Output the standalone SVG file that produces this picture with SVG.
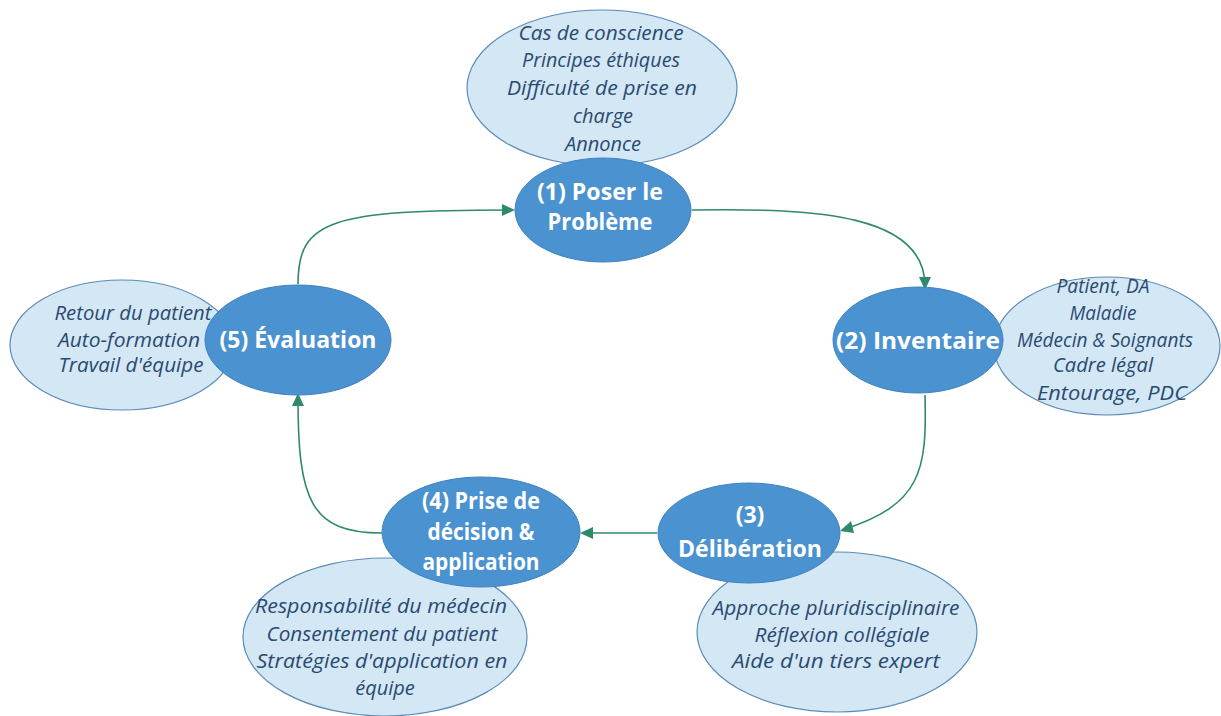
<svg xmlns="http://www.w3.org/2000/svg" width="1221" height="716" viewBox="0 0 1221 716">
<defs>
<style>
.bg{fill:#ffffff}
.sub{fill:#d3e7f5;stroke:#5b8bb8;stroke-width:1.2}
.main{fill:#4b92d0;stroke:#3f82c0;stroke-width:1}
.st{font-family:"Open Sans","Noto Sans",sans-serif;font-style:italic;font-size:20px;fill:#2b4a70;text-anchor:middle}
.mt{font-family:"Open Sans","Noto Sans",sans-serif;font-weight:bold;font-size:23px;fill:#ffffff;text-anchor:middle}
.conn{fill:none;stroke:#2e8b6a;stroke-width:1.6}
.ah{fill:#2e8b6a}
</style>
</defs>
<rect class="bg" width="1221" height="716"/>
<g id="connectors">
<path class="conn" d="M692,210 C820,208 925,215 925,286"/>
<path class="conn" d="M925,395 C927,470 922,505 842,530"/>
<path class="conn" d="M657,533 L582,533"/>
<path class="conn" d="M382,533 C310,533 298,500 298,397"/>
<path class="conn" d="M298,284 C298,220 330,210 513,210"/>
<path class="ah" d="M925,290 L919,277 L931,277 z"/>
<path class="ah" d="M840,531 L851,521 L854,533 z"/>
<path class="ah" d="M580,533 L593,527 L593,539 z"/>
<path class="ah" d="M298,393 L292,406 L304,406 z"/>
<path class="ah" d="M515,210 L502,204 L502,216 z"/>
</g>
<g id="sub1"><ellipse class="sub" cx="602" cy="88" rx="135" ry="78"/>
<text class="st" x="601" y="40" textLength="165" lengthAdjust="spacingAndGlyphs">Cas de conscience</text>
<text class="st" x="601" y="67" textLength="158" lengthAdjust="spacingAndGlyphs">Principes éthiques</text>
<text class="st" x="602" y="95" textLength="190" lengthAdjust="spacingAndGlyphs">Difficulté de prise en</text>
<text class="st" x="603" y="123">charge</text>
<text class="st" x="603" y="151">Annonce</text></g>
<g id="sub2"><ellipse class="sub" cx="1107" cy="346" rx="113" ry="69"/>
<text class="st" x="1103" y="293" textLength="93" lengthAdjust="spacingAndGlyphs">Patient, DA</text>
<text class="st" x="1103" y="320" textLength="67" lengthAdjust="spacingAndGlyphs">Maladie</text>
<text class="st" x="1105" y="347" textLength="176" lengthAdjust="spacingAndGlyphs">Médecin &amp; Soignants</text>
<text class="st" x="1103" y="372" textLength="100" lengthAdjust="spacingAndGlyphs">Cadre légal</text>
<text class="st" x="1112" y="400" textLength="150" lengthAdjust="spacingAndGlyphs">Entourage, PDC</text></g>
<g id="sub3"><ellipse class="sub" cx="837" cy="632" rx="140" ry="80"/>
<text class="st" x="836" y="615" textLength="247" lengthAdjust="spacingAndGlyphs">Approche pluridisciplinaire</text>
<text class="st" x="842" y="642" textLength="175" lengthAdjust="spacingAndGlyphs">Réflexion collégiale</text>
<text class="st" x="836" y="668" textLength="208" lengthAdjust="spacingAndGlyphs">Aide d'un tiers expert</text></g>
<g id="sub4"><ellipse class="sub" cx="385" cy="637" rx="142" ry="79"/>
<text class="st" x="381" y="613" textLength="252" lengthAdjust="spacingAndGlyphs">Responsabilité du médecin</text>
<text class="st" x="382" y="641" textLength="231" lengthAdjust="spacingAndGlyphs">Consentement du patient</text>
<text class="st" x="382" y="668" textLength="251" lengthAdjust="spacingAndGlyphs">Stratégies d'application en</text>
<text class="st" x="385" y="695">équipe</text></g>
<g id="sub5"><ellipse class="sub" cx="122" cy="345" rx="112" ry="65"/>
<text class="st" x="133" y="320" textLength="157" lengthAdjust="spacingAndGlyphs">Retour du patient</text>
<text class="st" x="129" y="347" textLength="142" lengthAdjust="spacingAndGlyphs">Auto-formation</text>
<text class="st" x="131" y="372" textLength="145" lengthAdjust="spacingAndGlyphs">Travail d'équipe</text></g>
<g id="n1"><ellipse class="main" cx="603" cy="210" rx="88" ry="52"/>
<text class="mt" x="600" y="200" textLength="126" lengthAdjust="spacingAndGlyphs">(1) Poser le</text>
<text class="mt" x="600" y="230" textLength="105" lengthAdjust="spacingAndGlyphs">Problème</text></g>
<g id="n2"><ellipse class="main" cx="918" cy="340" rx="85" ry="53"/>
<text class="mt" x="918" y="349" textLength="164" lengthAdjust="spacingAndGlyphs">(2) Inventaire</text></g>
<g id="n3"><ellipse class="main" cx="749" cy="533" rx="91" ry="50"/>
<text class="mt" x="750" y="523">(3)</text>
<text class="mt" x="750" y="557" textLength="144" lengthAdjust="spacingAndGlyphs">Délibération</text></g>
<g id="n4"><ellipse class="main" cx="481" cy="532" rx="99" ry="55"/>
<text class="mt" x="481" y="509" textLength="118" lengthAdjust="spacingAndGlyphs">(4) Prise de</text>
<text class="mt" x="481" y="540" textLength="107" lengthAdjust="spacingAndGlyphs">décision &amp;</text>
<text class="mt" x="481" y="570" textLength="117" lengthAdjust="spacingAndGlyphs">application</text></g>
<g id="n5"><ellipse class="main" cx="298" cy="340" rx="93" ry="55"/>
<text class="mt" x="298" y="348" textLength="157" lengthAdjust="spacingAndGlyphs">(5) Évaluation</text></g>
</svg>
